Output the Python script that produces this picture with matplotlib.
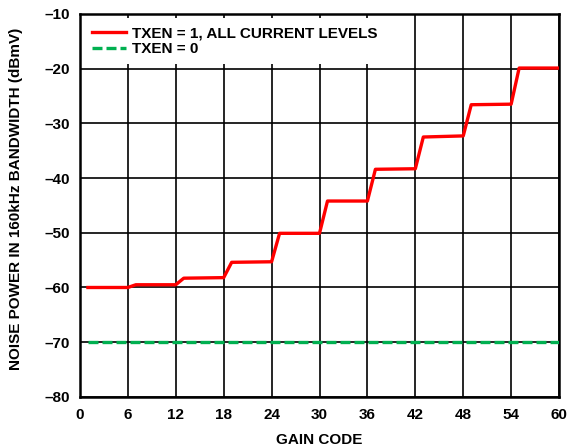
import numpy as np
import matplotlib
matplotlib.use('Agg')
import matplotlib.pyplot as plt

# datos
gain_code = [1, 6, 7, 12, 13, 18, 19, 24, 25, 30, 31, 36, 37, 42, 43, 48, 49, 54, 55, 60]
noise_txen1 = [-60.0, -60.0, -59.5, -59.5, -58.3, -58.2, -55.4, -55.3, -50.1, -50.1,
               -44.2, -44.2, -38.4, -38.3, -32.5, -32.3, -26.6, -26.5, -19.9, -19.9]
gain_code_off = [1, 60]
noise_txen0 = [-70.0, -70.0]

xticks = list(range(0, 61, 6))
yticks = list(range(-80, -9, 10))
ytick_labels = ['\u2013' + str(abs(v)) for v in yticks]

plt.rcParams['font.family'] = ['Liberation Sans', 'DejaVu Sans']
plt.rcParams['font.weight'] = 'bold'

fig = plt.figure(figsize=(5.67, 4.48), dpi=100)
ax = fig.add_axes([0.141, 0.114, 0.845, 0.855])

ax.plot(gain_code, noise_txen1, color='#ff0000', lw=2.4, label='TXEN = 1, ALL CURRENT LEVELS', zorder=3)
ax.plot(gain_code_off, noise_txen0, color='#00b050', lw=2.4, ls=(0, (3, 1.2)), label='TXEN = 0', zorder=3)

ax.set_xlim(0, 60)
ax.set_ylim(-80, -10)
ax.set_xticks(xticks)
ax.set_yticks(yticks)
ax.set_yticklabels(ytick_labels)
ax.tick_params(length=0, labelsize=11, pad=7)
ax.tick_params(axis='x', pad=8)
for lbl in ax.get_xticklabels() + ax.get_yticklabels():
    lbl.set_fontweight('bold')
ax.grid(True, color='black', lw=1.2)
for s in ax.spines.values():
    s.set_linewidth(1.8)

ax.set_xlabel('GAIN CODE', fontsize=11, fontweight='bold')
ax.xaxis.set_label_coords(0.5, -0.093)
ax.set_ylabel('NOISE POWER IN 160kHz BANDWIDTH (dBmV)', fontsize=11, fontweight='bold')
ax.yaxis.set_label_coords(-0.119, 0.517)

leg = ax.legend(loc='upper left', frameon=True, fontsize=11, handlelength=2.2,
                borderaxespad=0.3, handletextpad=0.4, labelspacing=0.15, borderpad=0.5)
leg.get_frame().set_edgecolor('none')
leg.get_frame().set_facecolor('white')
leg.get_frame().set_alpha(1)
leg.get_frame().set_boxstyle('square', pad=0)
leg.set_zorder(5)

fig.savefig('out.png', dpi=100)
